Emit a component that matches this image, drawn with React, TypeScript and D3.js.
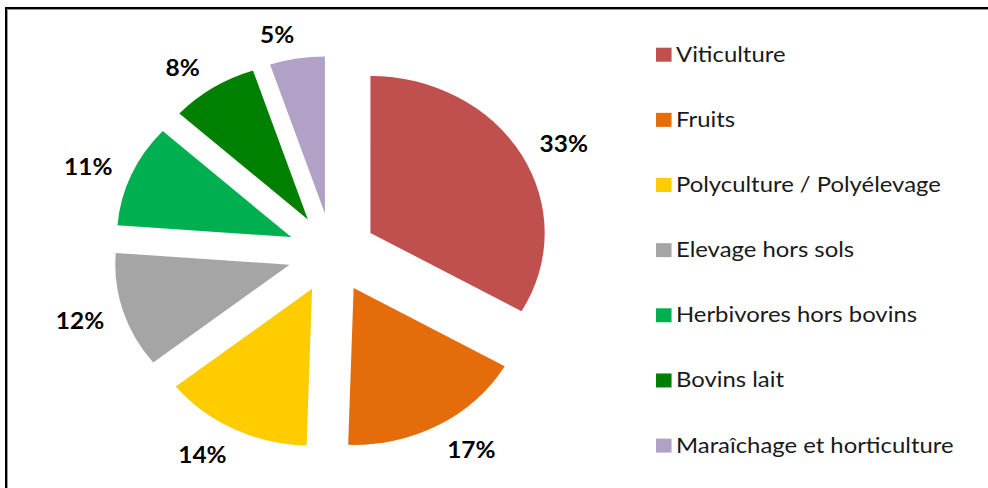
import React from 'react';
import * as d3 from 'd3';

// chart values
const categories = [
  'Viticulture',
  'Fruits',
  'Polyculture / Polyélevage',
  'Elevage hors sols',
  'Herbivores hors bovins',
  'Bovins lait',
  'Maraîchage et horticulture',
];
const values = [33.3, 17.2, 13.8, 11.9, 10.6, 8.1, 5.1];
const colors = ['#C0504D', '#E46C0A', '#FFCC00', '#A5A5A5', '#00B050', '#008000', '#B2A1C7'];

const width = 988;
const height = 488;
const sx = 1.11; // the picture is stretched horizontally
const cx = 332 / sx;
const cy = 253;
const radius = 157;
const explode = 40;

export default function App() {
  const pie = d3.pie<number>().sort(null).startAngle(0).endAngle(2 * Math.PI);
  const arc = d3.arc<d3.PieArcDatum<number>>().innerRadius(0).outerRadius(radius);
  const slices = pie(values);

  const legendX = 591;
  const legendBase = 61.7;
  const legendStep = 65.15;

  return (
    <svg
      width={width}
      height={height}
      style={{ position: 'absolute', left: 0, top: 0, background: '#fff' }}
    >
      <rect x={0} y={0} width={width} height={height} fill="#fff" />
      <path d={`M6,${height} V8 H${width}`} fill="none" stroke="#000" strokeWidth={2} />
      <path d={`M7.5,${height} V9.5 H${width}`} fill="none" stroke="#999" strokeWidth={1} />

      <g transform={`scale(${sx},1)`}>
        <g transform={`translate(${cx},${cy})`}>
          {slices.map((s, i) => {
            const a = (s.startAngle + s.endAngle) / 2;
            const dx = explode * Math.sin(a);
            const dy = -explode * Math.cos(a);
            return (
              <path
                key={categories[i]}
                d={arc(s) || ''}
                transform={`translate(${dx},${dy})`}
                fill={colors[i]}
              />
            );
          })}
          {slices.map((s, i) => {
            const a = (s.startAngle + s.endAngle) / 2;
            const label = Math.round(values[i]) + '%';
            const hw = label.length * 6.8;
            const hh = 10;
            const R0 = 213;
            // outside end, pushed a bit sideways like the original
            const push = (15 / sx) * Math.abs(Math.cos(a)) * Math.sign(Math.sin(a));
            const lx = (R0 + hw) * Math.sin(a) + push;
            const ly = -(R0 + hh) * Math.cos(a) + 2;
            return (
              <text
                key={'l' + i}
                x={lx}
                y={ly}
                textAnchor="middle"
                dominantBaseline="central"
                fontFamily="Lato, 'Open Sans', sans-serif"
                fontWeight="bold"
                fontSize={22}
                fill="#000"
              >
                {label}
              </text>
            );
          })}
        </g>

        <g>
          {categories.map((c, i) => {
            const base = legendBase + i * legendStep;
            return (
              <g key={'lg' + i}>
                <rect x={legendX} y={base - 14} width={14} height={14} fill={colors[i]} />
                <text
                  x={legendX + 18}
                  y={base}
                  fontFamily="Lato, 'Open Sans', sans-serif"
                  fontSize={21.5}
                  fill="#1a1a1a"
                >
                  {c}
                </text>
              </g>
            );
          })}
        </g>
      </g>
    </svg>
  );
}
